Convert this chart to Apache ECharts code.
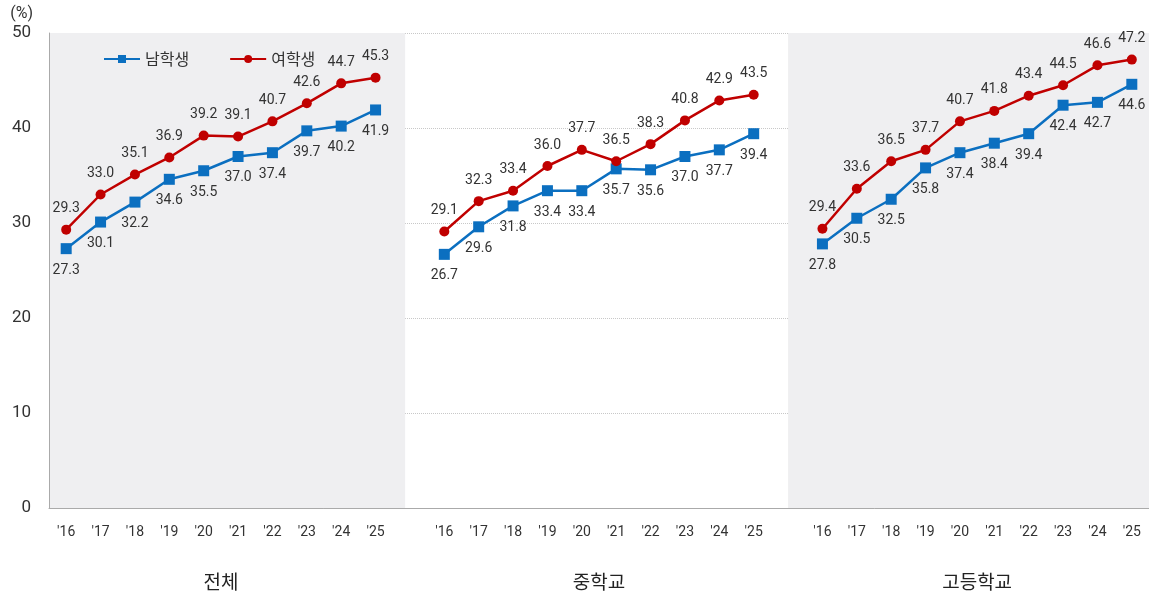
<!DOCTYPE html>
<html>
<head>
<meta charset="utf-8">
<script src="https://cdn.jsdelivr.net/npm/echarts@6/dist/echarts.min.js"></script>
<style>
  html, body { margin: 0; padding: 0; background: #fff; }
  #chart { width: 1149px; height: 599px; }
</style>
</head>
<body>
<div id="chart"></div>
<script>
// years shown under each group
const years = ["'16", "'17", "'18", "'19", "'20", "'21", "'22", "'23", "'24", "'25"];
const groups = ["전체", "중학교", "고등학교"];

// 남학생
const boysAll = [27.3, 30.1, 32.2, 34.6, 35.5, 37.0, 37.4, 39.7, 40.2, 41.9];
const boysMiddle = [26.7, 29.6, 31.8, 33.4, 33.4, 35.7, 35.6, 37.0, 37.7, 39.4];
const boysHigh = [27.8, 30.5, 32.5, 35.8, 37.4, 38.4, 39.4, 42.4, 42.7, 44.6];

// 여학생
const girlsAll = [29.3, 33.0, 35.1, 36.9, 39.2, 39.1, 40.7, 42.6, 44.7, 45.3];
const girlsMiddle = [29.1, 32.3, 33.4, 36.0, 37.7, 36.5, 38.3, 40.8, 42.9, 43.5];
const girlsHigh = [29.4, 33.6, 36.5, 37.7, 40.7, 41.8, 43.4, 44.5, 46.6, 47.2];

const yTicks = [0, 10, 20, 30, 40, 50];

// one empty slot between groups
const categories = [...years, "", ...years, "", ...years];
const joinGroups = (a, b, c) => [...a, "-", ...b, "-", ...c];
const boys = joinGroups(boysAll, boysMiddle, boysHigh);
const girls = joinGroups(girlsAll, girlsMiddle, girlsHigh);

const textColor = "#333";
const chart = echarts.init(document.getElementById("chart"));

chart.setOption({
  animation: false,
  textStyle: { fontFamily: "Roboto, 'Noto Sans CJK KR', sans-serif" },
  grid: { left: 49, right: 0, top: 33, bottom: 91 },
  legend: {
    data: ["남학생", "여학생"],
    left: 98,
    top: 46,
    itemWidth: 36,
    itemHeight: 10,
    itemGap: 40,
    textStyle: { fontSize: 16, color: textColor, fontFamily: "'Noto Sans CJK KR', sans-serif" }
  },
  xAxis: [
    {
      type: "category",
      data: categories,
      z: 1,
      axisLine: { lineStyle: { color: "#aaa", width: 1 } },
      axisTick: { show: false },
      axisLabel: { interval: 0, margin: 17, fontSize: 14, color: textColor }
    },
    {
      // hidden helper axis for panel backgrounds and group names
      type: "value",
      min: 0,
      max: 32,
      position: "bottom",
      axisLine: { show: false },
      axisTick: { show: false },
      splitLine: { show: false },
      axisLabel: {
        customValues: [5, 16, 27],
        margin: 64,
        fontSize: 19,
        color: "#222",
        fontFamily: "'Noto Sans CJK KR', sans-serif",
        formatter: v => groups[[5, 16, 27].indexOf(v)] || ""
      }
    }
  ],
  yAxis: {
    type: "value",
    min: 0,
    max: 50,
    interval: 10,
    offset: 4,
    z: 1,
    name: "(%)",
    nameGap: 11,
    nameTextStyle: { fontSize: 16, color: textColor, align: "right", padding: [0, 16, 0, 0] },
    axisLine: { show: true, lineStyle: { color: "#aaa" } },
    axisTick: { show: false },
    axisLabel: {
      margin: 14,
      fontSize: 17,
      color: textColor,
      formatter: v => (yTicks.includes(v) ? String(v) : "")
    },
    splitLine: { lineStyle: { type: "dotted", color: "#c8c8c8" } }
  },
  series: [
    {
      name: "bg",
      type: "line",
      xAxisIndex: 1,
      data: [],
      silent: true,
      z: 0,
      markArea: {
        silent: true,
        itemStyle: { color: "#efeff1" },
        data: [
          [{ xAxis: 0, yAxis: 0 }, { xAxis: 10.36, yAxis: 50 }],
          [{ xAxis: 21.5, yAxis: 0 }, { xAxis: 32, yAxis: 50 }]
        ]
      }
    },
    {
      name: "남학생",
      type: "line",
      data: boys,
      z: 3,
      symbol: "rect",
      symbolSize: 11,
      color: "#0b6fc0",
      lineStyle: { width: 2.5 },
      label: {
        show: true,
        position: "bottom",
        distance: 9,
        fontSize: 14,
        color: textColor,
        formatter: p => p.value.toFixed(1)
      }
    },
    {
      name: "여학생",
      type: "line",
      data: girls,
      z: 4,
      symbol: "circle",
      symbolSize: 10,
      color: "#c00000",
      lineStyle: { width: 2.5 },
      label: {
        show: true,
        position: "top",
        distance: 9,
        fontSize: 14,
        color: textColor,
        formatter: p => p.value.toFixed(1)
      }
    }
  ]
});
</script>
</body>
</html>
